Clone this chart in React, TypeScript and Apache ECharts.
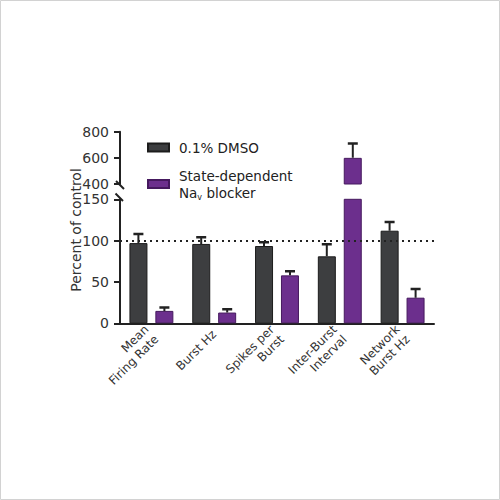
import { useEffect, useRef } from 'react';
import * as echarts from 'echarts';

// data
const categories = ['Mean\nFiring Rate', 'Burst Hz', 'Spikes per\nBurst', 'Inter-Burst\nInterval', 'Network\nBurst Hz'];
const dmsoName = '0.1% DMSO';
const blockerName = 'State-dependent Nav blocker';
const dmsoValues = [97, 96, 93.5, 81, 112];
const dmsoErrors = [11, 8, 4.5, 14.5, 10.5];
const blockerValues = [15, 13, 58, 600, 31];
const blockerErrors = [4, 4, 5, 110, 10.5];
const lowerRange = { min: 0, max: 150, interval: 50 };
const upperRange = { min: 400, max: 800, interval: 200 };
const controlLevel = 100;

const FONT = 'DejaVu Sans';
const INK = '#222';
const DARK = '#3d3e40';
const PURPLE = '#6c2f8d';

const errorRows = (values: number[], errors: number[]) => values.map((v, i) => [i, v, errors[i]]);

// draws the upper half of an error bar, clipped to the axis range of its grid
function errorBar(offset: number, range: { min: number; max: number }) {
  return (params: any, api: any) => {
    const v = api.value(1);
    const top = v + api.value(2);
    if (v > range.max || top < range.min) return null;
    const bottom = Math.max(v, range.min);
    const p0 = api.coord([api.value(0), bottom]);
    const p1 = api.coord([api.value(0), Math.min(top, range.max)]);
    const x = p0[0] + offset;
    const children: any[] = [
      { type: 'line', shape: { x1: x, y1: p0[1], x2: x, y2: p1[1] }, style: { stroke: INK, lineWidth: 2 } },
    ];
    if (top <= range.max) {
      children.push({ type: 'line', shape: { x1: x - 5, y1: p1[1], x2: x + 5, y2: p1[1] }, style: { stroke: INK, lineWidth: 2.5 } });
    }
    return { type: 'group', children };
  };
}

const barSeries = (name: string, data: number[], color: string, border: string, grid: number) => ({
  type: 'bar',
  name,
  data,
  xAxisIndex: grid,
  yAxisIndex: grid,
  barWidth: 18,
  barGap: '44%',
  clip: true,
  itemStyle: { color, borderColor: border, borderWidth: 1 },
});

const yAxisBase = {
  type: 'value',
  axisLine: { show: true, lineStyle: { color: INK, width: 2 } },
  axisTick: { show: true, length: 6, lineStyle: { color: INK, width: 2 } },
  axisLabel: { color: '#333', fontFamily: FONT, fontSize: 14, margin: 11 },
  splitLine: { show: false },
};

export default function App() {
  const ref = useRef<HTMLDivElement>(null);

  useEffect(() => {
    if (!ref.current) return;
    const chart = echarts.init(ref.current, undefined, { renderer: 'svg', width: 500, height: 500 });
    chart.setOption({
      animation: false,
      backgroundColor: '#fff',
      textStyle: { fontFamily: FONT },
      grid: [
        { left: 120, width: 314, top: 199.3, bottom: 176.7 },
        { left: 120, width: 314, top: 131.7, height: 52.3 },
      ],
      legend: {
        orient: 'vertical',
        left: 142,
        top: 134,
        itemWidth: 21,
        itemHeight: 8,
        itemGap: 11,
        icon: 'rect',
        data: [dmsoName, blockerName],
        formatter: (name: string) => (name === blockerName ? 'State-dependent\nNa{sub|v} blocker' : name),
        textStyle: {
          fontFamily: FONT,
          fontSize: 13.5,
          color: INK,
          lineHeight: 17,
          padding: [0, 0, 0, 5],
          rich: { sub: { fontSize: 8, fontFamily: FONT, color: INK, verticalAlign: 'bottom', lineHeight: 12 } },
        },
      },
      xAxis: [
        {
          type: 'category',
          gridIndex: 0,
          data: categories,
          axisLine: { lineStyle: { color: INK, width: 2 } },
          axisTick: { alignWithLabel: true, length: 5, lineStyle: { color: INK, width: 2 } },
          axisLabel: { interval: 0, rotate: 45, color: '#333', fontFamily: FONT, fontSize: 12, lineHeight: 14, margin: 9 },
        },
        { type: 'category', gridIndex: 1, data: categories, show: false },
      ],
      yAxis: [
        { ...yAxisBase, gridIndex: 0, ...lowerRange },
        { ...yAxisBase, gridIndex: 1, ...upperRange },
      ],
      series: [
        {
          ...barSeries(dmsoName, dmsoValues, DARK, '#1c1c1c', 0),
          markLine: {
            silent: true,
            symbol: 'none',
            label: { show: false },
            lineStyle: { type: [2, 4], color: INK, width: 2 },
            data: [{ yAxis: controlLevel }],
          },
        },
        barSeries(blockerName, blockerValues, PURPLE, '#45195e', 0),
        barSeries(dmsoName, dmsoValues, DARK, '#1c1c1c', 1),
        barSeries(blockerName, blockerValues, PURPLE, '#45195e', 1),
        { type: 'custom', name: 'dmso-err', xAxisIndex: 0, yAxisIndex: 0, clip: true, data: errorRows(dmsoValues, dmsoErrors), renderItem: errorBar(-13, lowerRange), z: 3 },
        { type: 'custom', name: 'blocker-err', xAxisIndex: 0, yAxisIndex: 0, clip: true, data: errorRows(blockerValues, blockerErrors), renderItem: errorBar(13, lowerRange), z: 3 },
        { type: 'custom', name: 'dmso-err-up', xAxisIndex: 1, yAxisIndex: 1, clip: true, data: errorRows(dmsoValues, dmsoErrors), renderItem: errorBar(-13, upperRange), z: 3 },
        { type: 'custom', name: 'blocker-err-up', xAxisIndex: 1, yAxisIndex: 1, clip: true, data: errorRows(blockerValues, blockerErrors), renderItem: errorBar(13, upperRange), z: 3 },
      ],
      graphic: [
        { type: 'rect', shape: { x: 0.5, y: 0.5, width: 499, height: 499 }, style: { fill: 'none', stroke: '#d2d2d2', lineWidth: 1 }, silent: true },
        // axis break marks
        { type: 'line', shape: { x1: 116, y1: 181, x2: 124, y2: 189 }, style: { stroke: INK, lineWidth: 2 } },
        { type: 'line', shape: { x1: 115.5, y1: 193.5, x2: 123, y2: 201 }, style: { stroke: INK, lineWidth: 2 } },
        {
          type: 'text',
          x: 76,
          y: 230,
          rotation: Math.PI / 2,
          style: { text: 'Percent of control', fontFamily: FONT, fontSize: 14, fill: '#333', align: 'center', verticalAlign: 'middle' },
        },
      ],
    });
    return () => chart.dispose();
  }, []);

  return <div ref={ref} style={{ position: 'absolute', left: 0, top: 0, width: 500, height: 500 }} />;
}
